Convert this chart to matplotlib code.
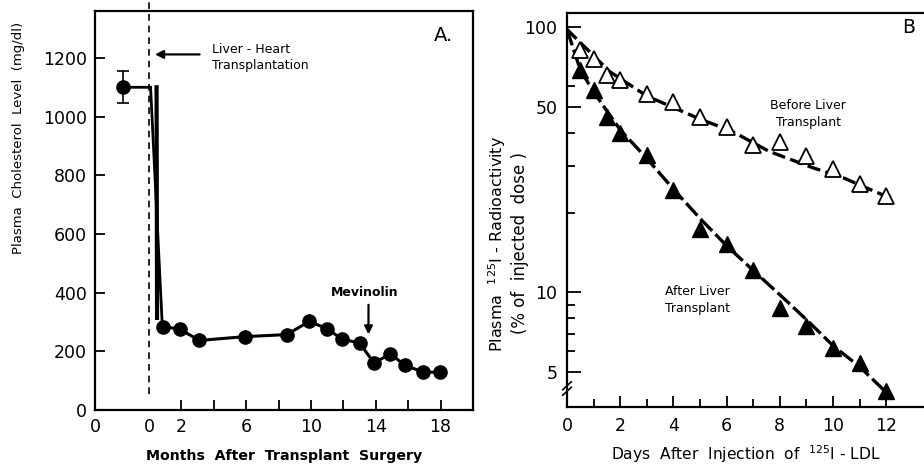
import matplotlib
matplotlib.use('Agg')
import matplotlib.pyplot as plt
from matplotlib.ticker import FixedLocator, NullFormatter

plt.rcParams['font.family'] = 'DejaVu Sans'

# Panel A data
pre_month = -1.6
pre_chol = 1100
pre_err = 55
post_months = [0.85, 1.9, 3.1, 5.9, 8.5, 9.9, 11.0, 11.9, 13.0, 13.9, 14.9, 15.8, 16.9, 17.95]
post_chol = [284, 276, 237, 250, 257, 302, 277, 242, 228, 160, 192, 152, 130, 128]
drop_x = [-1.6, 0.1, 0.82]
drop_y = [1100, 1100, 290]
bar_x = [0.47, 0.5]
bar_y = [1100, 314]
a_xticks = [-3.33, 0, 2, 4, 6, 8, 10, 12, 14, 16, 18]
a_xlabels = ['0', '0', '2', '', '6', '', '10', '', '14', '', '18']
a_yticks = [0, 200, 400, 600, 800, 1000, 1200]

# Panel B data
days = [0.5, 1, 1.5, 2, 3, 4, 5, 6, 7, 8, 9, 10, 11, 12]
before = [82, 76, 66, 63, 56, 52, 46, 42, 36, 37, 32.7, 29.3, 25.6, 23.1]
after = [69, 58, 46, 40, 33, 24.3, 17.4, 15.2, 12.2, 8.75, 7.5, 6.2, 5.4, 4.25]
before_fit_x = [0, 1.6, 3, 5, 6.2, 7.6, 9.2, 10.4, 12]
before_fit_y = [98, 68, 55, 45, 40.5, 34, 29.6, 27, 23]
after_fit_x = [0, 0.5, 1, 2, 3, 4, 5, 6, 7, 8, 9, 10, 11, 12]
after_fit_y = [98, 69, 57, 41, 32, 24.5, 19, 15, 12.1, 9.8, 7.9, 6.3, 5.25, 4.2]
b_major = [5, 10, 50, 100]
b_minor = [6, 7, 8, 9, 20, 30, 40, 60]

fig = plt.figure(figsize=(9.24, 4.66), dpi=100)

# ---- Panel A
axA = fig.add_axes([95/924, 1-410/466, (473-95)/924, (410-11)/466])
axA.set_xlim(-3.33, 20)
axA.set_ylim(0, 1360)

axA.plot([0, 0], [55, 1395], color='k', lw=1.2, linestyle=(0, (4, 3)), clip_on=False)
axA.errorbar([pre_month], [pre_chol], yerr=[pre_err], fmt='o', color='k', ms=9.5,
             capsize=4, elinewidth=1.2, capthick=1.2, zorder=5)
axA.plot(drop_x, drop_y, color='k', lw=2, solid_joinstyle='miter')
axA.plot(bar_x, bar_y, color='k', lw=3)
axA.plot(post_months, post_chol, 'o-', color='k', ms=9.5, lw=2.2)

axA.annotate('', xy=(0.2, 1212), xytext=(3.3, 1212),
             arrowprops=dict(arrowstyle='-|>', color='k', lw=1.6, mutation_scale=12))
axA.text(3.9, 1200, 'Liver - Heart\nTransplantation', fontsize=9, va='center', ha='left',
         linespacing=1.3)
axA.annotate('', xy=(13.55, 248), xytext=(13.55, 368),
             arrowprops=dict(arrowstyle='-|>', color='k', lw=1.6, mutation_scale=12))
axA.text(13.3, 402, 'Mevinolin', fontsize=9, ha='center', va='center', fontweight='bold')
axA.text(17.6, 1278, 'A.', fontsize=14, ha='left', va='center')

axA.set_xticks(a_xticks)
axA.set_xticklabels(a_xlabels)
axA.set_yticks(a_yticks)
axA.tick_params(direction='in', length=7, width=1.3, labelsize=12.5, pad=6)
for t in axA.xaxis.get_major_ticks()[:2]:
    t.tick1line.set_visible(False)
for s in axA.spines.values():
    s.set_linewidth(1.6)
axA.set_xlabel('Months  After  Transplant  Surgery', fontsize=10.2, fontweight='bold',
               labelpad=9)
fig.text(19/924, 1-138/466, 'Plasma  Cholesterol  Level  (mg/dl)', rotation=90,
         ha='center', va='center', fontsize=9.5)

# ---- Panel B
axB = fig.add_axes([567/924, 1-407/466, (924-567)/924, (407-13)/466])
axB.set_yscale('log')
axB.set_xlim(0, 13.42)
axB.set_ylim(3.7, 113)

axB.plot(before_fit_x, before_fit_y, color='k', lw=2.4, linestyle=(0, (4, 1.6)))
axB.plot(after_fit_x, after_fit_y, color='k', lw=2.4, linestyle=(0, (5, 1.4)))
axB.plot(days, before, '^', ms=11, mfc='white', mec='k', mew=1.3, zorder=5)
axB.plot(days, after, '^', ms=11, color='k', zorder=5)

axB.text(9.06, 47, 'Before Liver\nTransplant', fontsize=9, ha='center', va='center',
         linespacing=1.4)
axB.text(4.9, 9.4, 'After Liver\nTransplant', fontsize=9, ha='center', va='center',
         linespacing=1.4)
axB.text(12.85, 100, 'B', fontsize=13.5, ha='center', va='center')

axB.yaxis.set_major_locator(FixedLocator(b_major))
axB.yaxis.set_minor_locator(FixedLocator(b_minor))
axB.yaxis.set_minor_formatter(NullFormatter())
axB.set_yticklabels([str(v) for v in b_major])
axB.set_xticks([0, 2, 4, 6, 8, 10, 12])
axB.set_xticks([1, 3, 5, 7, 9, 11], minor=True)
axB.tick_params(axis='y', which='major', direction='in', length=10, width=1.3,
                labelsize=12.5, pad=7)
axB.tick_params(axis='y', which='minor', direction='in', length=6, width=1.3)
axB.tick_params(axis='x', which='major', direction='in', length=8, width=1.3,
                labelsize=12.5, pad=7)
axB.tick_params(axis='x', which='minor', direction='in', length=6, width=1.3)
axB.spines['right'].set_visible(False)
for s in ['left', 'top', 'bottom']:
    axB.spines[s].set_linewidth(1.6)

# axis break marks
for dy in (0.0, 0.014):
    axB.plot([-0.012, 0.012], [0.03 + dy, 0.05 + dy], transform=axB.transAxes,
             color='k', lw=1.2, clip_on=False)

axB.set_xlabel('Days  After  Injection  of  $^{125}$I - LDL', fontsize=11.2, labelpad=6)
fig.text(497/924, 1-244/466, 'Plasma  $^{125}$I - Radioactivity', rotation=90,
         ha='center', va='center', fontsize=11.5)
fig.text(520/924, 1-243/466, '(% of  injected  dose )', rotation=90,
         ha='center', va='center', fontsize=12)

fig.savefig('out.png', dpi=100)
